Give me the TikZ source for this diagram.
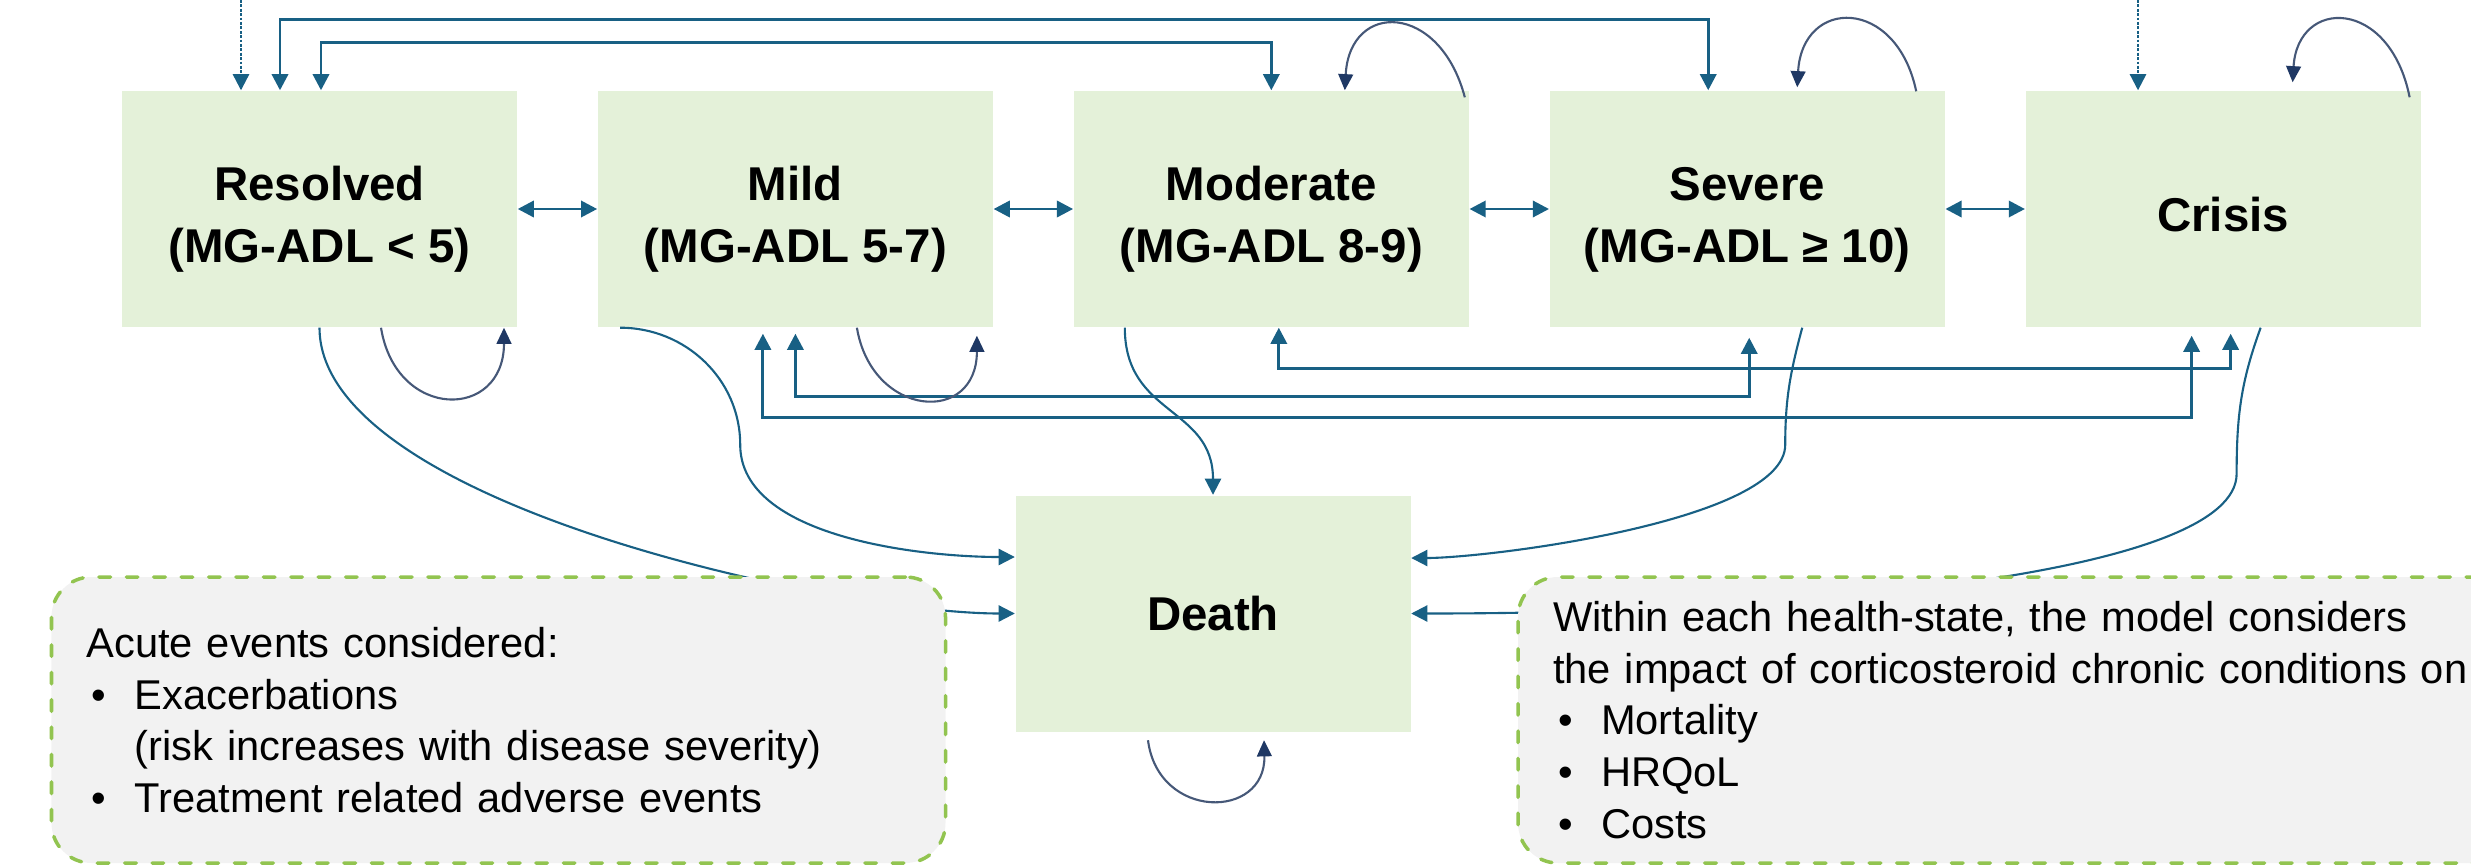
\documentclass[tikz,border=0pt]{standalone}
\usepackage{fontspec}
\setmainfont{Liberation Sans}
\usetikzlibrary{positioning,arrows.meta}

\definecolor{stategreen}{RGB}{228,241,217}
\definecolor{linkblue}{RGB}{24,96,132}
\definecolor{loopgrey}{RGB}{70,88,120}
\definecolor{loophead}{RGB}{31,56,100}
\definecolor{notegrey}{RGB}{242,242,242}
\definecolor{notegreen}{RGB}{146,196,80}

\newcommand{\itm}{\makebox[0.48cm][l]{\hspace{0.05cm}\textbullet}}
\newcommand{\ind}{\hspace*{0.48cm}}
\newcommand{\lbl}[2]{\rule{0pt}{15.6pt}#1\\#2}

\begin{document}
\begin{tikzpicture}[
                    >={Triangle[length=4.6pt,width=4.6pt]},
                    state/.style={fill=stategreen, minimum width=3.95cm, minimum height=2.36cm,
                                  inner sep=0pt, align=center,
                                  font=\fontsize{13.5}{17.5}\selectfont\bfseries},
                    link/.style={draw=linkblue, line width=0.85pt},
                    flow/.style={draw=linkblue, line width=0.6pt},
                    feed/.style={draw=linkblue, line width=0.65pt, dash pattern=on 0.8pt off 0.45pt, ->},
                    selfloop/.style={draw=loopgrey, line width=0.6pt,
                                     -{Triangle[length=4.6pt,width=4.2pt,color=loophead]}},
                    note/.style={fill=notegrey, draw=notegreen, line width=1pt,
                                 dash pattern=on 3.3pt off 4.5pt, line cap=round,
                                 rounded corners=0.4cm, minimum height=2.86cm,
                                 inner xsep=0.35cm, align=left,
                                 font=\fontsize{11.85}{14.7}\selectfont}
                ]
                \clip (0,0) rectangle (24.71,-8.66);

                \node[state] (Res) at (3.195,-2.09) {\lbl{Resolved}{(MG-ADL < 5)}};
                \node[state, right=0.795cm of Res] (Mild) {\lbl{Mild}{(MG-ADL 5-7)}};
                \node[state, right=0.795cm of Mild] (Mod) {\lbl{Moderate}{(MG-ADL 8-9)}};
                \node[state, right=0.795cm of Mod] (Sev) {\lbl{Severe}{(MG-ADL ≥ 10)}};
                \node[state, right=0.795cm of Sev] (Cri) {\rule{0pt}{12.7pt}Crisis};
                \node[state] (Death) at (12.13,-6.135) {Death};

                \coordinate (inRes) at (2.41,0);
                \coordinate (inCri) at (21.38,0);
                \draw[feed] (inRes) -- (inRes |- Res.north);
                \draw[feed] (inCri) -- (inCri |- Cri.north);

                \path
                (Res) edge[link,<->] (Mild)
                (Mild) edge[link,<->] (Mod)
                (Mod) edge[link,<->] (Sev)
                (Sev) edge[link,<->] (Cri)
                ;

                \draw[link,<->] ([xshift=-0.395cm]Res.north) -- ++(0,0.71) -| ([xshift=-0.39cm]Sev.north);
                \draw[link,<->] ([xshift=0.015cm]Res.north) -- ++(0,0.48) -| (Mod.north);

                \draw[link,<->] ([xshift=0.075cm]Mod.south) -- ++(0,-0.41) -| ([xshift=0.075cm,yshift=-0.06cm]Cri.south);
                \draw[link,<->] ([yshift=-0.06cm]Mild.south) -- ++(0,-0.63) -| ([xshift=0.02cm,yshift=-0.1cm]Sev.south);
                \draw[link,<->] ([xshift=-0.325cm,yshift=-0.06cm]Mild.south) -- ++(0,-0.84) -| ([xshift=-0.315cm,yshift=-0.08cm]Cri.south);

                \draw[flow,->] (Res.south) to[out=-90,in=180,looseness=0.6] (Death.west);
                \draw[flow,->] ([xshift=0.23cm]Mild.south west) to[out=0,in=90] ++(1.2,-1.17)
                    to[out=-90,in=180,looseness=0.8] ([yshift=0.565cm]Death.west);
                \draw[flow,->] ([xshift=-1.465cm]Mod.south) to[out=-90,in=90,looseness=1.2] (Death.north);
                \draw[flow,->] ([xshift=0.55cm]Sev.south) to[out=-105,in=90] ++(-0.17,-1.17)
                    to[out=-90,in=0,looseness=0.5] ([yshift=0.555cm]Death.east);
                \draw[flow,->] ([xshift=0.375cm]Cri.south) to[out=-110,in=90] ++(-0.24,-1.46)
                    .. controls +(0,-1.0) and +(4.0,0) .. (Death.east);

                \draw[selfloop] ([xshift=0.615cm]Res.south) .. controls +(0.15,-0.93) and +(0,-0.93) .. ([xshift=1.845cm]Res.south);
                \draw[selfloop] ([xshift=0.615cm]Mild.south) .. controls +(0.15,-0.9) and +(0,-0.9) .. ([xshift=1.815cm,yshift=-0.08cm]Mild.south);
                \draw[selfloop] ([xshift=-0.65cm,yshift=-0.08cm]Death.south) .. controls +(0.1,-0.8) and +(0.02,-0.8) .. ([xshift=0.51cm,yshift=-0.08cm]Death.south);
                \draw[selfloop] ([xshift=1.935cm,yshift=-0.07cm]Mod.north) .. controls +(-0.25,0.95) and +(0.05,0.9) .. ([xshift=0.735cm]Mod.north);
                \draw[selfloop] ([xshift=1.69cm,yshift=-0.01cm]Sev.north) .. controls +(-0.2,0.95) and +(0.05,0.9) .. ([xshift=0.5cm,yshift=0.03cm]Sev.north);
                \draw[selfloop] ([xshift=1.865cm,yshift=-0.07cm]Cri.north) .. controls +(-0.2,1.0) and +(0.05,0.85) .. ([xshift=0.695cm,yshift=0.08cm]Cri.north);

                \node[note, minimum width=8.94cm, text width=8.24cm] (N1) at (4.985,-7.2)
                    {Acute events considered:\\
                     \itm Exacerbations\\
                     \ind(risk increases with disease severity)\\
                     \itm Treatment related adverse events};
                \node[note, minimum width=10.82cm, text width=10.12cm] (N2) at (20.59,-7.2)
                    {Within each health-state, the model considers\\
                     the impact of corticosteroid chronic conditions on\\
                     \itm Mortality\\
                     \itm HRQoL\\
                     \itm Costs};
            \end{tikzpicture}
\end{document}
